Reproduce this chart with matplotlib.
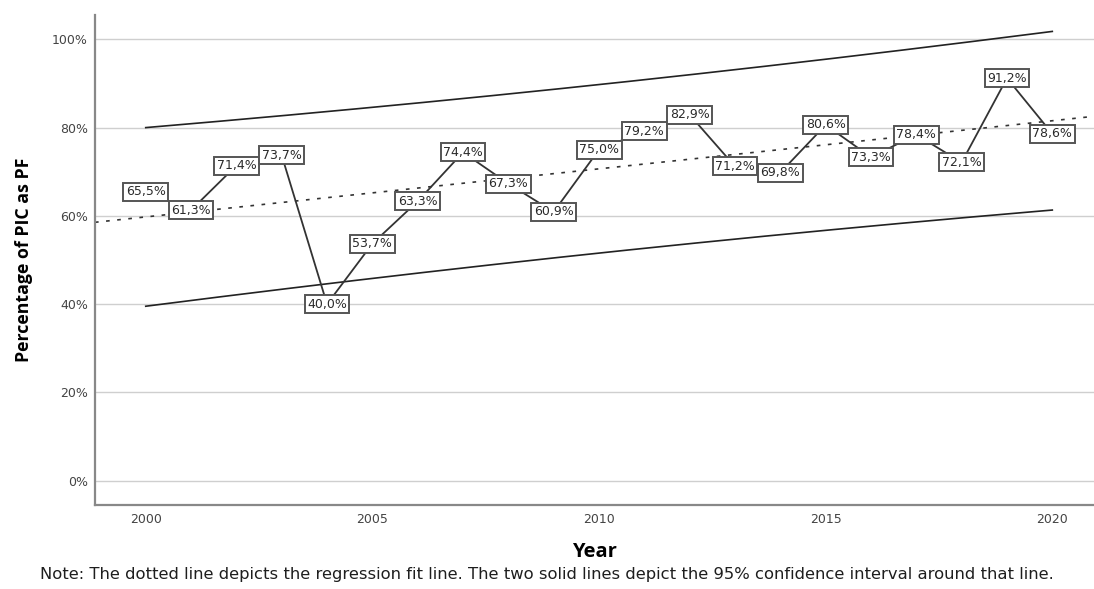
import numpy as np
import matplotlib
matplotlib.use("Agg")
import matplotlib.pyplot as plt

years = list(range(2000, 2021))
pct_pf = [65.5, 61.3, 71.4, 73.7, 40.0, 53.7, 63.3, 74.4, 67.3, 60.9, 75.0,
          79.2, 82.9, 71.2, 69.8, 80.6, 73.3, 78.4, 72.1, 91.2, 78.6]
y_ticks = [0, 20, 40, 60, 80, 100]
x_ticks = [2000, 2005, 2010, 2015, 2020]

x = np.array(years, dtype=float)
y = np.array(pct_pf)

# Ordinary least squares fit and 95% prediction interval
n = len(x)
slope, intercept = np.polyfit(x, y, 1)
resid = y - (slope * x + intercept)
s = np.sqrt(np.sum(resid ** 2) / (n - 2))
sxx = np.sum((x - x.mean()) ** 2)
t_crit = 2.093  # t(0.975, df=19)

fig = plt.figure(figsize=(10.94, 5.89), dpi=100)
ax = fig.add_axes([0.0868, 0.1426, 0.9132, 0.8319])

xlim = (1998.88, 2020.92)
ax.set_xlim(*xlim)
ax.set_ylim(-5.5, 105.5)

for yt in y_ticks:
    ax.axhline(yt, color="#cfcfcf", lw=1.0, zorder=0)

# regression line across the full axis range
xr = np.linspace(xlim[0], xlim[1], 200)
ax.plot(xr, slope * xr + intercept, color="#333333", lw=1.2,
        linestyle=(0, (2.2, 4.5)), zorder=1)

# prediction interval bounds over the observed years
xb = np.linspace(x.min(), x.max(), 200)
half = t_crit * s * np.sqrt(1 + 1 / n + (xb - x.mean()) ** 2 / sxx)
fit_b = slope * xb + intercept
ax.plot(xb, fit_b + half, color="#222222", lw=1.2, zorder=1)
ax.plot(xb, fit_b - half, color="#222222", lw=1.2, zorder=1)

# observed series with value labels
ax.plot(x, y, color="#333333", lw=1.3, zorder=2)
for xi, yi in zip(x, y):
    ax.text(xi, yi, f"{yi:.1f}%".replace(".", ","), ha="center", va="center",
            fontsize=9, color="#2a2a2a", zorder=3,
            bbox=dict(boxstyle="square,pad=0.2", fc="white", ec="#555555", lw=1.4))

ax.set_yticks(y_ticks)
ax.set_yticklabels([f"{v}%" for v in y_ticks])
ax.set_xticks(x_ticks)
ax.tick_params(length=0, labelsize=9, labelcolor="#444444")
ax.tick_params(axis="x", pad=6)
ax.tick_params(axis="y", pad=5)

for side in ("top", "right"):
    ax.spines[side].set_visible(False)
for side in ("left", "bottom"):
    ax.spines[side].set_color("#888888")
    ax.spines[side].set_linewidth(1.6)

ax.set_ylabel("Percentage of PIC as PF", fontsize=12.8, fontweight="bold",
              family="Open Sans", labelpad=14)
ax.set_xlabel("Year", fontsize=14.5, fontweight="bold", family="Open Sans", labelpad=11)

fig.text(0.5, 0.024,
         "Note: The dotted line depicts the regression fit line. The two solid lines "
         "depict the 95% confidence interval around that line.",
         ha="center", va="center", fontsize=11.8, color="#1e1e1e", family="DejaVu Sans")

fig.savefig("out.png", dpi=100)
